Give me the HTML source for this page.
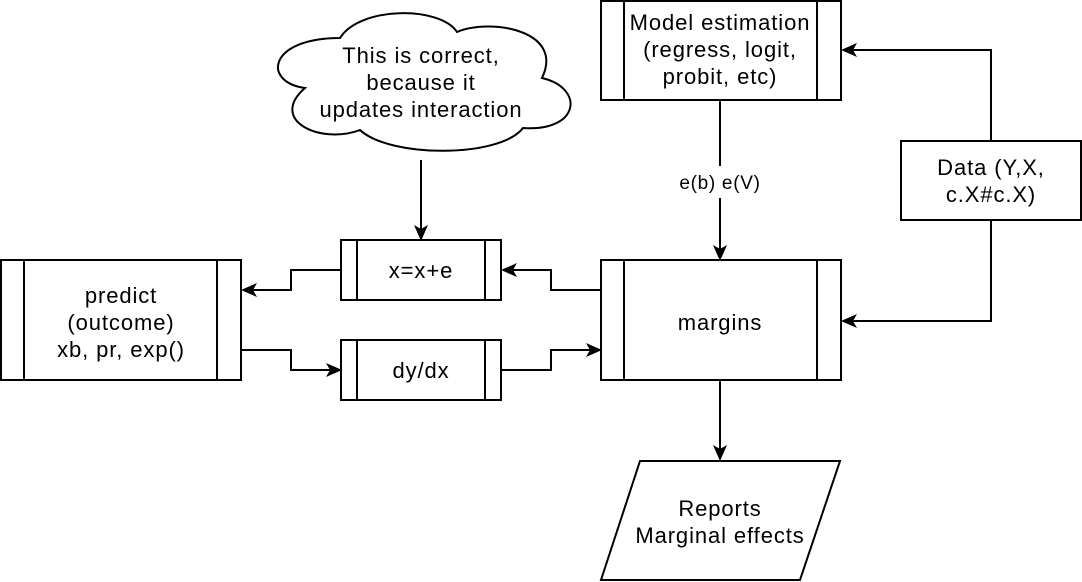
<!DOCTYPE html>
<html><head><meta charset="utf-8"><style>
html,body{margin:0;padding:0;background:#fff;}
svg{display:block;}
text{font-family:"Liberation Sans",Arial,sans-serif;font-size:22px;letter-spacing:0.9px;fill:#000;text-anchor:middle;}
</style></head><body>
<svg width="1082" height="582" viewBox="0 0 1082 582">
<defs><marker id="a" markerWidth="16" markerHeight="14" refX="14" refY="7" orient="auto" markerUnits="userSpaceOnUse"><path d="M0,0 L16,7 L0,14 L4,7 Z" fill="#000"/></marker></defs>
<g fill="none" stroke="#000" stroke-width="2">
<path d="M305,88 C262,82 268,38 340,38 C360,6 440,6 457,32 C490,18 565,30 542,78 C585,88 580,132 523,128 C500,158 390,158 360,130 C320,145 268,120 305,88 Z" fill="#fff"/>
<rect x="601" y="1" width="240" height="99"/><line x1="624" y1="1" x2="624" y2="100"/><line x1="817" y1="1" x2="817" y2="100"/>
<rect x="901" y="141" width="180" height="79"/>
<rect x="341" y="240" width="160" height="60"/><line x1="357" y1="240" x2="357" y2="300"/><line x1="485" y1="240" x2="485" y2="300"/>
<rect x="341" y="340" width="160" height="60"/><line x1="357" y1="340" x2="357" y2="400"/><line x1="485" y1="340" x2="485" y2="400"/>
<rect x="1" y="260" width="240" height="120"/><line x1="24" y1="260" x2="24" y2="380"/><line x1="217" y1="260" x2="217" y2="380"/>
<rect x="601" y="260" width="240" height="120"/><line x1="624" y1="260" x2="624" y2="380"/><line x1="817" y1="260" x2="817" y2="380"/>
<path d="M640,461 L840,461 L800,580 L601,580 Z"/>
<path d="M991,141 V50 H843" marker-end="url(#a)"/>
<path d="M991,220 V321 H843" marker-end="url(#a)"/>
<path d="M720,100 V166 M720,198 V259" marker-end="url(#a)"/>
<path d="M720,380 V459" marker-end="url(#a)"/>
<path d="M421,160 V239" marker-end="url(#a)"/>
<path d="M601,290 H551 V270 H503" marker-end="url(#a)"/>
<path d="M341,270 H291 V290 H243" marker-end="url(#a)"/>
<path d="M241,350 H291 V370 H340" marker-end="url(#a)"/>
<path d="M501,370 H551 V350 H600" marker-end="url(#a)"/>
</g>
<text x="421" y="63">This is correct,</text>
<text x="421" y="90">because it</text>
<text x="421" y="117">updates interaction</text>
<text x="720" y="30">Model estimation</text>
<text x="720" y="57">(regress, logit,</text>
<text x="720" y="84">probit, etc)</text>
<text x="720" y="189" style="font-size:19px;letter-spacing:0.7px">e(b) e(V)</text>
<text x="991" y="175">Data (Y,X,</text>
<text x="991" y="202">c.X#c.X)</text>
<text x="421" y="278">x=x+e</text>
<text x="421" y="378">dy/dx</text>
<text x="121" y="303">predict</text>
<text x="121" y="330">(outcome)</text>
<text x="121" y="357">xb, pr, exp()</text>
<text x="720" y="330">margins</text>
<text x="720" y="516">Reports</text>
<text x="720" y="543">Marginal effects</text>
</svg>
</body></html>
